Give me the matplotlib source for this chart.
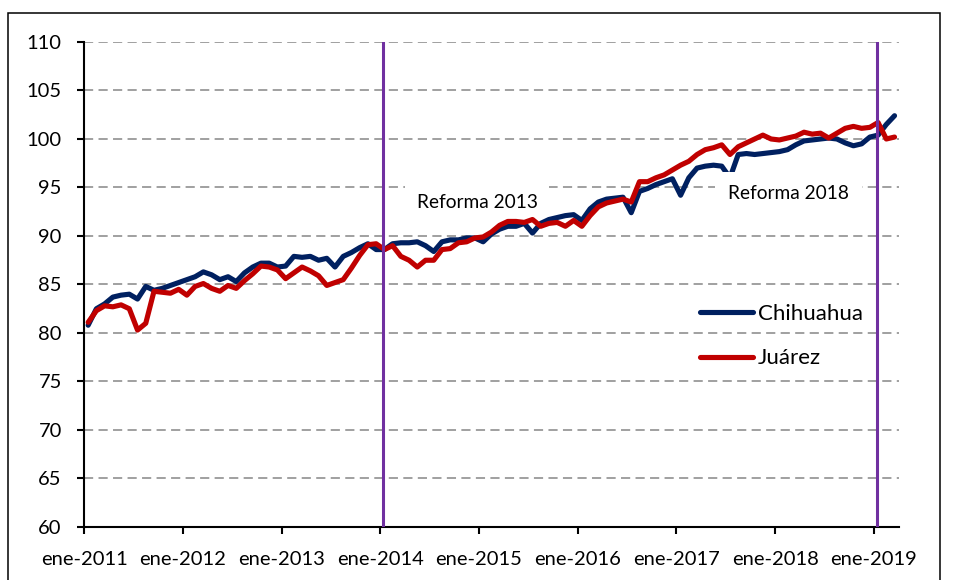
import numpy as np
import matplotlib
matplotlib.use('Agg')
import matplotlib.pyplot as plt
from matplotlib.patches import Rectangle

plt.rcParams['font.family'] = ['Lato', 'DejaVu Sans']

# monthly index, ene-2011 .. mar-2019
chihuahua = [
    80.8, 82.5, 83.0, 83.7, 83.9, 84.0, 83.5, 84.8, 84.4, 84.6,
    84.9, 85.2, 85.5, 85.8, 86.3, 86.0, 85.5, 85.8, 85.3, 86.2,
    86.8, 87.2, 87.2, 86.8, 86.9, 87.9, 87.8, 87.9, 87.5, 87.7,
    86.8, 87.9, 88.3, 88.8, 89.2, 88.6, 88.6, 89.2, 89.3, 89.3,
    89.4, 89.0, 88.4, 89.4, 89.6, 89.6, 89.8, 89.8, 89.4, 90.2,
    90.7, 91.0, 91.0, 91.3, 90.3, 91.3, 91.7, 91.9, 92.1, 92.2,
    91.6, 92.8, 93.5, 93.8, 93.9, 94.0, 92.4, 94.6, 94.9, 95.3,
    95.6, 95.9, 94.2, 96.0, 97.0, 97.2, 97.3, 97.2, 96.0, 98.4,
    98.5, 98.4, 98.5, 98.6, 98.7, 98.9, 99.4, 99.8, 99.9, 100.0,
    100.1, 100.0, 99.6, 99.3, 99.5, 100.2, 100.4, 101.5, 102.4,
]
juarez = [
    81.1, 82.3, 82.8, 82.7, 82.9, 82.5, 80.3, 81.0, 84.3, 84.2,
    84.1, 84.5, 83.9, 84.8, 85.1, 84.6, 84.3, 84.9, 84.6, 85.4,
    86.1, 86.9, 86.8, 86.5, 85.6, 86.2, 86.8, 86.4, 85.9, 84.9,
    85.2, 85.5, 86.7, 88.0, 89.1, 89.2, 88.6, 89.0, 87.9, 87.5,
    86.8, 87.5, 87.5, 88.6, 88.7, 89.3, 89.4, 89.8, 89.9, 90.4,
    91.1, 91.5, 91.5, 91.4, 91.7, 91.0, 91.3, 91.4, 91.0, 91.6,
    91.0, 92.1, 93.0, 93.4, 93.6, 93.8, 93.5, 95.6, 95.6, 96.0,
    96.3, 96.8, 97.3, 97.7, 98.4, 98.9, 99.1, 99.4, 98.4, 99.2,
    99.6, 100.0, 100.4, 100.0, 99.9, 100.1, 100.3, 100.7, 100.5, 100.6,
    100.1, 100.6, 101.1, 101.3, 101.1, 101.2, 101.7, 100.0, 100.2,
]
year_labels = ['ene-2011', 'ene-2012', 'ene-2013', 'ene-2014', 'ene-2015',
               'ene-2016', 'ene-2017', 'ene-2018', 'ene-2019']
reform_names = ['Reforma 2013', 'Reforma 2018']
reform_months = [35.8, 95.9]

months = np.arange(len(chihuahua))

fig = plt.figure(figsize=(9.55, 5.8), dpi=100)
ax = fig.add_axes([0.0880, 0.0914, 0.8530, 0.8362])

ax.plot(months, chihuahua, color='#002060', lw=3.7, solid_joinstyle='round',
        solid_capstyle='round', zorder=3, label='Chihuahua')
ax.plot(months, juarez, color='#C00000', lw=3.7, solid_joinstyle='round',
        solid_capstyle='round', zorder=3.1, label='Juárez')

for m in reform_months:
    ax.axvline(m, color='#7030A0', lw=2.2, zorder=4)

ax.text(47.3, 92.86, reform_names[0], ha='center', va='baseline', fontsize=13.8,
        zorder=2.5, bbox=dict(boxstyle='square,pad=0.6', fc='white', ec='none'))
ax.text(85.1, 93.8, reform_names[1], ha='center', va='baseline', fontsize=13.8,
        zorder=5, bbox=dict(boxstyle='square,pad=0.7', fc='white', ec='none'))

ax.set_xlim(-0.5, 98.5)
ax.set_ylim(60, 110)
ax.set_yticks(np.arange(60, 111, 5))
ax.set_xticks(np.arange(-0.5, 98, 12))
ax.set_xticklabels(year_labels)

ax.yaxis.grid(True, color='#868686', lw=1.1, dashes=(6, 3.5))
ax.set_axisbelow(True)
for s in ['top', 'right']:
    ax.spines[s].set_visible(False)
for s in ['left', 'bottom']:
    ax.spines[s].set_linewidth(1.5)
ax.tick_params(direction='out', length=5, width=1.5, labelsize=14.5)
ax.tick_params(axis='x', pad=12)
ax.tick_params(axis='y', pad=11)

ax.legend(loc='upper left', bbox_to_anchor=(700 / 955, 0.476),
          bbox_transform=fig.transFigure, frameon=False, fontsize=16,
          handlelength=2.4, handletextpad=0.22, labelspacing=1.1,
          borderpad=0, borderaxespad=0)

fig.patches.append(Rectangle((8 / 955, -0.05), 932 / 955, 1.05 - 13 / 580,
                             transform=fig.transFigure, fill=False,
                             ec='black', lw=1.1))

fig.savefig('out.png', dpi=100)
